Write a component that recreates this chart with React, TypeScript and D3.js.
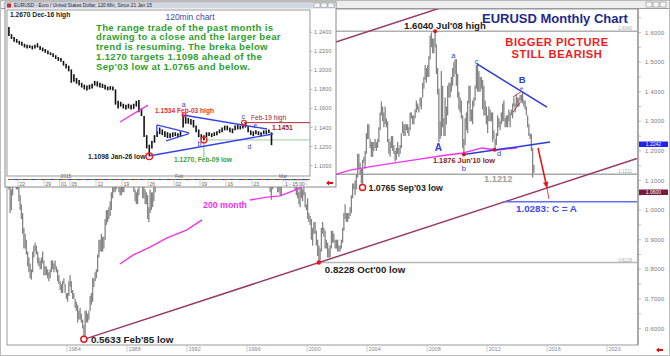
import React from 'react';
import * as d3 from 'd3';

const FONT = "'Liberation Sans', Arial, Helvetica, sans-serif";

// ---------- Monthly EURUSD (synthetic pre-1999), Jan 1980 .. Feb 2015 ----------
const firstYear = 1980;
const monthlyHigh: number[][] = [
  [1.15, 1.13, 1.08, 1.07, 1.11, 1.13, 1.14, 1.11, 1.10, 1.09, 1.05, 1.02], // 1980
  [0.99, 0.94, 0.92, 0.90, 0.86, 0.84, 0.82, 0.80, 0.86, 0.88, 0.89, 0.88],
  [0.86, 0.84, 0.83, 0.84, 0.86, 0.83, 0.81, 0.81, 0.80, 0.79, 0.80, 0.83],
  [0.83, 0.82, 0.83, 0.81, 0.80, 0.78, 0.76, 0.75, 0.76, 0.77, 0.75, 0.72],
  [0.72, 0.76, 0.78, 0.76, 0.73, 0.72, 0.70, 0.69, 0.68, 0.66, 0.67, 0.65],
  [0.63, 0.61, 0.66, 0.66, 0.65, 0.66, 0.71, 0.72, 0.77, 0.77, 0.79, 0.80], // 1985
  [0.85, 0.90, 0.90, 0.92, 0.91, 0.91, 0.97, 1.00, 1.00, 1.01, 1.03, 1.06],
  [1.09, 1.09, 1.09, 1.11, 1.12, 1.09, 1.08, 1.09, 1.10, 1.14, 1.20, 1.25],
  [1.24, 1.20, 1.20, 1.18, 1.17, 1.13, 1.07, 1.06, 1.07, 1.11, 1.15, 1.14],
  [1.11, 1.08, 1.07, 1.06, 1.05, 1.01, 1.07, 1.06, 1.06, 1.08, 1.11, 1.17],
  [1.17, 1.18, 1.17, 1.17, 1.19, 1.18, 1.23, 1.27, 1.26, 1.32, 1.34, 1.33], // 1990
  [1.34, 1.35, 1.27, 1.18, 1.16, 1.13, 1.12, 1.14, 1.18, 1.20, 1.23, 1.29],
  [1.29, 1.23, 1.20, 1.21, 1.24, 1.28, 1.34, 1.40, 1.41, 1.34, 1.27, 1.27],
  [1.24, 1.21, 1.22, 1.25, 1.25, 1.22, 1.16, 1.19, 1.23, 1.21, 1.17, 1.17],
  [1.14, 1.17, 1.19, 1.19, 1.20, 1.25, 1.29, 1.28, 1.29, 1.32, 1.30, 1.27],
  [1.32, 1.35, 1.45, 1.45, 1.42, 1.42, 1.43, 1.40, 1.37, 1.42, 1.40, 1.39], // 1995
  [1.37, 1.37, 1.35, 1.33, 1.30, 1.30, 1.34, 1.35, 1.33, 1.31, 1.32, 1.29],
  [1.27, 1.18, 1.18, 1.16, 1.19, 1.16, 1.13, 1.09, 1.13, 1.15, 1.16, 1.14],
  [1.10, 1.09, 1.09, 1.10, 1.12, 1.12, 1.11, 1.15, 1.21, 1.23, 1.19, 1.19],
  [1.19, 1.14, 1.11, 1.09, 1.08, 1.06, 1.08, 1.08, 1.07, 1.09, 1.06, 1.02],
  [1.04, 0.99, 0.98, 0.97, 0.94, 0.96, 0.96, 0.93, 0.90, 0.88, 0.87, 0.94], // 2000
  [0.96, 0.94, 0.93, 0.90, 0.89, 0.87, 0.88, 0.93, 0.93, 0.92, 0.90, 0.90],
  [0.90, 0.88, 0.88, 0.90, 0.94, 0.99, 1.02, 0.99, 0.99, 0.99, 1.01, 1.05],
  [1.09, 1.09, 1.10, 1.12, 1.19, 1.19, 1.16, 1.14, 1.17, 1.18, 1.20, 1.26],
  [1.29, 1.29, 1.24, 1.23, 1.23, 1.23, 1.24, 1.23, 1.24, 1.28, 1.33, 1.367],
  [1.35, 1.33, 1.35, 1.31, 1.30, 1.24, 1.23, 1.25, 1.25, 1.22, 1.20, 1.21], // 2005
  [1.23, 1.21, 1.22, 1.26, 1.30, 1.29, 1.29, 1.29, 1.29, 1.28, 1.33, 1.33],
  [1.32, 1.32, 1.34, 1.37, 1.36, 1.35, 1.38, 1.38, 1.43, 1.45, 1.49, 1.48],
  [1.49, 1.52, 1.59, 1.60, 1.58, 1.58, 1.604, 1.56, 1.48, 1.41, 1.30, 1.47],
  [1.42, 1.31, 1.38, 1.35, 1.42, 1.43, 1.43, 1.45, 1.48, 1.50, 1.51, 1.51],
  [1.46, 1.40, 1.38, 1.37, 1.32, 1.24, 1.31, 1.33, 1.37, 1.42, 1.42, 1.34], // 2010
  [1.37, 1.38, 1.42, 1.49, 1.494, 1.47, 1.45, 1.45, 1.44, 1.42, 1.37, 1.35],
  [1.32, 1.35, 1.34, 1.33, 1.33, 1.27, 1.24, 1.26, 1.32, 1.31, 1.30, 1.33],
  [1.36, 1.37, 1.31, 1.32, 1.32, 1.34, 1.33, 1.34, 1.36, 1.38, 1.36, 1.39],
  [1.38, 1.38, 1.39, 1.39, 1.3993, 1.37, 1.37, 1.35, 1.32, 1.29, 1.26, 1.257],
  [1.21, 1.1534], // 2015
];
const monthlyLow: number[][] = [
  [1.11, 1.07, 0.99, 1.00, 1.05, 1.09, 1.10, 1.07, 1.07, 1.03, 1.00, 0.97], // 1980
  [0.92, 0.87, 0.87, 0.85, 0.81, 0.79, 0.77, 0.765, 0.79, 0.84, 0.86, 0.85],
  [0.82, 0.81, 0.80, 0.80, 0.82, 0.78, 0.78, 0.78, 0.77, 0.76, 0.77, 0.79],
  [0.80, 0.79, 0.80, 0.79, 0.76, 0.75, 0.73, 0.72, 0.72, 0.75, 0.72, 0.70],
  [0.69, 0.71, 0.74, 0.72, 0.70, 0.70, 0.67, 0.66, 0.62, 0.63, 0.63, 0.62],
  [0.60, 0.5633, 0.57, 0.62, 0.62, 0.63, 0.66, 0.68, 0.69, 0.74, 0.76, 0.77], // 1985
  [0.79, 0.84, 0.86, 0.86, 0.86, 0.87, 0.90, 0.95, 0.96, 0.97, 0.98, 1.00],
  [1.04, 1.06, 1.06, 1.07, 1.08, 1.06, 1.05, 1.05, 1.06, 1.06, 1.12, 1.18],
  [1.17, 1.15, 1.15, 1.15, 1.12, 1.06, 1.03, 1.02, 1.02, 1.05, 1.10, 1.09],
  [1.04, 1.04, 1.02, 1.02, 0.97, 0.96, 0.99, 1.00, 1.01, 1.03, 1.06, 1.10],
  [1.13, 1.14, 1.12, 1.14, 1.15, 1.14, 1.17, 1.21, 1.22, 1.24, 1.29, 1.28], // 1990
  [1.28, 1.27, 1.14, 1.12, 1.11, 1.09, 1.08, 1.09, 1.12, 1.16, 1.18, 1.20],
  [1.20, 1.17, 1.16, 1.18, 1.19, 1.21, 1.27, 1.32, 1.28, 1.25, 1.20, 1.20],
  [1.19, 1.17, 1.17, 1.19, 1.20, 1.15, 1.11, 1.12, 1.17, 1.16, 1.13, 1.12],
  [1.11, 1.12, 1.15, 1.15, 1.17, 1.18, 1.23, 1.24, 1.24, 1.27, 1.24, 1.22],
  [1.25, 1.29, 1.34, 1.38, 1.35, 1.37, 1.38, 1.31, 1.31, 1.36, 1.35, 1.35], // 1995
  [1.32, 1.32, 1.31, 1.27, 1.26, 1.27, 1.28, 1.31, 1.28, 1.27, 1.27, 1.25],
  [1.18, 1.13, 1.13, 1.11, 1.12, 1.11, 1.06, 1.035, 1.07, 1.10, 1.12, 1.09],
  [1.06, 1.06, 1.05, 1.05, 1.08, 1.08, 1.08, 1.08, 1.13, 1.17, 1.15, 1.15],
  [1.13, 1.09, 1.07, 1.05, 1.04, 1.02, 1.01, 1.04, 1.03, 1.05, 1.01, 1.00],
  [0.97, 0.96, 0.95, 0.90, 0.88, 0.92, 0.92, 0.88, 0.845, 0.8228, 0.83, 0.86], // 2000
  [0.92, 0.91, 0.87, 0.87, 0.84, 0.84, 0.84, 0.87, 0.89, 0.89, 0.87, 0.87],
  [0.86, 0.86, 0.86, 0.87, 0.89, 0.93, 0.97, 0.96, 0.96, 0.97, 0.98, 0.99],
  [1.04, 1.07, 1.05, 1.07, 1.11, 1.14, 1.12, 1.09, 1.0765, 1.16, 1.14, 1.19],
  [1.24, 1.24, 1.21, 1.18, 1.18, 1.20, 1.21, 1.20, 1.21, 1.23, 1.27, 1.32],
  [1.30, 1.28, 1.29, 1.28, 1.23, 1.19, 1.18, 1.21, 1.20, 1.19, 1.164, 1.17], // 2005
  [1.19, 1.18, 1.19, 1.21, 1.26, 1.25, 1.25, 1.27, 1.26, 1.25, 1.27, 1.31],
  [1.29, 1.29, 1.31, 1.33, 1.34, 1.33, 1.35, 1.34, 1.38, 1.41, 1.44, 1.43],
  [1.45, 1.45, 1.51, 1.55, 1.53, 1.53, 1.55, 1.46, 1.39, 1.23, 1.24, 1.25],
  [1.28, 1.25, 1.25, 1.29, 1.32, 1.38, 1.38, 1.40, 1.42, 1.45, 1.46, 1.42],
  [1.38, 1.34, 1.33, 1.31, 1.21, 1.1876, 1.22, 1.27, 1.26, 1.36, 1.30, 1.30], // 2010
  [1.29, 1.35, 1.37, 1.41, 1.40, 1.40, 1.40, 1.41, 1.34, 1.32, 1.32, 1.29],
  [1.26, 1.30, 1.30, 1.30, 1.23, 1.24, 1.2043, 1.22, 1.25, 1.28, 1.27, 1.29],
  [1.30, 1.30, 1.28, 1.28, 1.28, 1.30, 1.28, 1.32, 1.31, 1.35, 1.33, 1.35],
  [1.35, 1.35, 1.37, 1.37, 1.36, 1.35, 1.34, 1.32, 1.28, 1.25, 1.24, 1.20],
  [1.1098, 1.1262], // 2015
];

// 200-month moving average (null = gap where the label sits)
const maTimes = [1987.53, 1988.4, 1989.53, 1990.67, 1992.0, 1993.0, 1994.5, 1995.5, 1996.2, 1997.33, 1998.2, 1999.07, 1999.33, 2001.53, 2002.87, 2004.87, 2007.07, 2009.33, 2010.4, 2011.67, 2012.67, 2014.0];
const maValues: (number | null)[] = [0.818, 0.848, 0.875, 0.906, 0.933, 0.967, null, null, 1.034, 1.044, 1.048, 1.065, 1.071, 1.115, 1.135, 1.152, 1.169, 1.186, 1.193, 1.21, 1.203, 1.21];

const yearTicks = [1984, 1988, 1992, 1996, 2000, 2004, 2008, 2012, 2016, 2020];
const priceTicks = [0.6, 0.7, 0.8, 0.9, 1.0, 1.1, 1.2, 1.3, 1.4, 1.5, 1.6];

// key levels
const jul08High = { t: 2008.54, v: 1.604 };
const oct00Low = { t: 2000.79, v: 0.8228 };
const feb85Low = { t: 1985.125, v: 0.5633 };
const sep03Low = { t: 2003.7, v: 1.0765 };
const jun10Low = { t: 2010.46, v: 1.1876 };
const jul12Low = { t: 2012.5, v: 1.2043 };
const level1212 = 1.1212;
const targetCA = 1.0283;
const channelOffset = 0.726;

// ---------- 120min inset: half-day bars from 18 Dec 2014 ----------
const insetHigh = [
  1.2455, 1.2380, 1.2350, 1.2330, 1.2310, 1.2300, 1.2280, 1.2270, 1.2265, 1.2260,
  1.2270, 1.2285, 1.2255, 1.2240, 1.2225, 1.2210, 1.2190, 1.2180, 1.2160, 1.2140,
  1.2130, 1.2100, 1.2070, 1.2050, 1.2010, 1.1960, 1.1920, 1.1900, 1.1870, 1.1850,
  1.1840, 1.1850, 1.1860, 1.1890, 1.1885, 1.1870, 1.1860, 1.1850, 1.1830, 1.1835,
  1.1830, 1.1800, 1.1680, 1.1670, 1.1650, 1.1640, 1.1650, 1.1640, 1.1650, 1.1680,
  1.1690, 1.1600, 1.1520, 1.1320, 1.1220, 1.1260, 1.1320, 1.1360, 1.1400, 1.1380,
  1.1360, 1.1350, 1.1340, 1.1350, 1.1350, 1.1340, 1.1360, 1.1534, 1.1510, 1.1500,
  1.1490, 1.1480, 1.1420, 1.1380, 1.1330, 1.1320, 1.1350, 1.1350, 1.1340, 1.1350,
  1.1360, 1.1380, 1.1400, 1.1420, 1.1420, 1.1400, 1.1390, 1.1420, 1.1430, 1.1420,
  1.1440, 1.1451, 1.1410, 1.1370, 1.1360, 1.1370, 1.1360, 1.1350, 1.1370, 1.1370,
  1.1380, 1.1350,
];
const insetLow = [
  1.2360, 1.2330, 1.2300, 1.2290, 1.2270, 1.2260, 1.2240, 1.2230, 1.2235, 1.2220,
  1.2230, 1.2240, 1.2215, 1.2200, 1.2185, 1.2170, 1.2160, 1.2140, 1.2120, 1.2100,
  1.2090, 1.2050, 1.2020, 1.1990, 1.1870, 1.1880, 1.1860, 1.1840, 1.1820, 1.1800,
  1.1790, 1.1800, 1.1810, 1.1840, 1.1830, 1.1820, 1.1815, 1.1800, 1.1790, 1.1795,
  1.1790, 1.1640, 1.1600, 1.1620, 1.1600, 1.1590, 1.1600, 1.1590, 1.1595, 1.1620,
  1.1560, 1.1520, 1.1300, 1.1180, 1.1098, 1.1180, 1.1240, 1.1300, 1.1330, 1.1320,
  1.1300, 1.1290, 1.1290, 1.1300, 1.1310, 1.1300, 1.1310, 1.1400, 1.1440, 1.1440,
  1.1430, 1.1400, 1.1350, 1.1300, 1.1280, 1.1270, 1.1300, 1.1310, 1.1300, 1.1310,
  1.1320, 1.1340, 1.1350, 1.1370, 1.1370, 1.1350, 1.1340, 1.1370, 1.1380, 1.1380,
  1.1390, 1.1400, 1.1350, 1.1320, 1.1310, 1.1330, 1.1320, 1.1310, 1.1330, 1.1330,
  1.1340, 1.1215,
];
const insetPriceTicks = [1.10, 1.12, 1.14, 1.16, 1.18, 1.20, 1.22, 1.24];
const insetDayLabels = ['22', '29', '01', '05', '12', '19', '26', '02', '09', '16', '23'];
const insetDayBars = [4, 14, 20, 24, 34, 44, 54, 64, 74, 84, 94];
const insetMonthLabels = ['2015', 'Feb', 'Mar'];
const insetMonthBars = [20, 64, 104];
const greenText = [
  'The range trade of the past month is',
  'drawing to a close and the larger bear',
  'trend is resuming. The breka below',
  '1.1270 targets 1.1098 ahead of the',
  "Sep'03 low at 1.0765 and below.",
];

function arrowHead(p1: [number, number], p0: [number, number], len: number, half: number) {
  const a = Math.atan2(p1[1] - p0[1], p1[0] - p0[0]);
  const bx = p1[0] - Math.cos(a) * len, by = p1[1] - Math.sin(a) * len;
  const px = -Math.sin(a) * half, py = Math.cos(a) * half;
  return `${p1[0]},${p1[1]} ${bx + px},${by + py} ${bx - px},${by - py}`;
}

function LeftArrow({ cx, cy }: { cx: number; cy: number }) {
  return (
    <polygon
      points={`${cx - 4},${cy} ${cx - 1},${cy - 2.5} ${cx - 1},${cy - 1} ${cx + 3},${cy - 1} ${cx + 3},${cy + 1} ${cx - 1},${cy + 1} ${cx - 1},${cy + 2.5}`}
      fill="#e01010"
    />
  );
}

export default function App() {
  const x = d3.scaleLinear().domain([1980, 2022]).range([7, 637]);
  const y = d3.scaleLinear().domain([0.6, 1.6]).range([328.5, 32.5]);

  const months = monthlyHigh.flatMap((row, yi) =>
    row.map((h, mi) => ({ t: firstYear + yi + (mi + 0.5) / 12, hi: h, lo: monthlyLow[yi][mi] }))
  );

  const maLine = d3
    .line<number>()
    .defined((_, i) => maValues[i] !== null)
    .x((_, i) => x(maTimes[i]))
    .y((_, i) => y(maValues[i] as number));

  // channel
  const slope = (oct00Low.v - feb85Low.v) / (oct00Low.t - feb85Low.t);
  const chan = (t: number) => feb85Low.v + slope * (t - feb85Low.t);

  // blue trendlines
  const cHigh = { t: 2011.33, v: 1.494 };
  const upperEnd = { t: 2016.0, v: 1.348 };
  const lowerEnd = { t: 2016.2, v: 1.23 };

  const arrowP0: [number, number] = [x(2015.4), y(1.21)];
  const arrowP1: [number, number] = [x(2016.0), y(1.075)];
  const arrowP2: [number, number] = [x(2016.13), y(1.0375)];

  // inset scales
  const xi = d3.scaleLinear().domain([0, 116]).range([7.6, 7.6 + 116 * 2.6]);
  const yi = d3.scaleLinear().domain([1.1, 1.24]).range([165.6, 32.3]);
  const fmt4 = d3.format('.4f');

  const blue = '#2b3bd6';
  const maroon = '#9a3a66';

  return (
    <svg
      width={670}
      height={356}
      viewBox="0 0 670 356"
      style={{ position: 'absolute', left: 0, top: 0, background: '#fff' }}
      fontFamily={FONT}
    >
      <defs>
        <clipPath id="plotClip">
          <rect x={7} y={9} width={631} height={336} />
        </clipPath>
        <clipPath id="insetClip">
          <rect x={7} y={10} width={303} height={166} />
        </clipPath>
      </defs>

      {/* ---------- main window ---------- */}
      <rect x={0.5} y={0.5} width={669} height={355} fill="#fff" stroke="#bbb" />
      <rect x={1} y={1} width={668} height={7} fill="#eeeeee" />
      <line x1={1} x2={669} y1={8.5} y2={8.5} stroke="#999" />
      {[646, 653, 660].map((bx, i) => (
        <rect key={i} x={bx} y={2} width={6} height={5} fill="#f8f8f8" stroke="#888" strokeWidth={0.6} />
      ))}
      <rect x={7} y={9} width={631} height={336} fill="#fff" stroke="#999" />

      <g clipPath="url(#plotClip)">
        {/* horizontal key levels */}
        <line x1={7} x2={637} y1={y(jul08High.v)} y2={y(jul08High.v)} stroke="#b0b0b0" strokeWidth={1.6} />
        <line x1={7} x2={637} y1={y(level1212)} y2={y(level1212)} stroke="#a8a8a8" strokeWidth={1.6} />
        <line x1={x(oct00Low.t)} x2={637} y1={y(oct00Low.v)} y2={y(oct00Low.v)} stroke="#b8b8b8" strokeWidth={1.6} />

        {/* monthly bars */}
        {months.map((m, i) => (
          <line key={i} x1={x(m.t)} x2={x(m.t)} y1={y(m.lo)} y2={y(m.hi)} stroke="#858585" strokeWidth={1.3} />
        ))}

        {/* 200 month MA */}
        <path d={maLine(maTimes) || ''} fill="none" stroke="#ee33ee" strokeWidth={1.4} />

        {/* channel */}
        <line x1={x(feb85Low.t)} y1={y(feb85Low.v)} x2={x(2022)} y2={y(chan(2022))} stroke={maroon} strokeWidth={1.5} />
        <line x1={x(1998)} y1={y(chan(1998) + channelOffset)} x2={x(2009.5)} y2={y(chan(2009.5) + channelOffset)} stroke={maroon} strokeWidth={1.5} />

        {/* blue trendlines */}
        <line x1={x(cHigh.t)} y1={y(cHigh.v)} x2={x(upperEnd.t)} y2={y(upperEnd.v)} stroke={blue} strokeWidth={1.5} />
        <line x1={x(jun10Low.t)} y1={y(jun10Low.v)} x2={x(lowerEnd.t)} y2={y(lowerEnd.v)} stroke={blue} strokeWidth={1.5} />
        <line x1={x(2013.07)} x2={637} y1={y(targetCA)} y2={y(targetCA)} stroke="#6070f0" strokeWidth={1.5} />

        {/* small wedge near B */}
        <line x1={x(2013.73)} y1={y(1.382)} x2={x(2014.33)} y2={y(1.402)} stroke="#b03040" strokeWidth={0.9} />
        <line x1={x(2013.73)} y1={y(1.331)} x2={x(2014.4)} y2={y(1.375)} stroke="#b03040" strokeWidth={0.9} />

        {/* red arrow */}
        <line x1={arrowP0[0]} y1={arrowP0[1]} x2={arrowP1[0]} y2={arrowP1[1]} stroke="#e01818" strokeWidth={1.6} />
        <polygon points={arrowHead(arrowP1, arrowP0, 6, 2.8)} fill="#e01818" />
        <line x1={arrowP1[0]} y1={arrowP1[1]} x2={arrowP2[0]} y2={arrowP2[1]} stroke="#e01818" strokeWidth={0.8} />
      </g>

      {/* markers */}
      <circle cx={x(jul08High.t)} cy={y(jul08High.v)} r={2} fill="#e01818" />
      <circle cx={x(oct00Low.t)} cy={y(oct00Low.v)} r={2.2} fill="#e01818" />
      <circle cx={x(jun10Low.t)} cy={y(jun10Low.v)} r={2} fill="#e01818" />
      <circle cx={x(jul12Low.t)} cy={y(jul12Low.v)} r={2} fill="#e01818" />
      <circle cx={x(feb85Low.t)} cy={y(feb85Low.v)} r={3} fill="#fff" stroke="#e01818" strokeWidth={1.5} />
      <circle cx={x(sep03Low.t)} cy={y(sep03Low.v)} r={3} fill="#fff" stroke="#e01818" strokeWidth={1.5} />

      {/* main texts */}
      <text x={482} y={23} fontSize={13} fontWeight="bold" fill="#1f2a8a">EURUSD Monthly Chart</text>
      <text x={557} y={45.5} fontSize={11.2} fontWeight="bold" fill="#ee1c1c" textAnchor="middle" letterSpacing={0.5}>BIGGER PICTURE</text>
      <text x={557} y={57.5} fontSize={11.2} fontWeight="bold" fill="#ee1c1c" textAnchor="middle" letterSpacing={0.5}>STILL BEARISH</text>
      <text x={x(jul08High.t) - 31} y={y(jul08High.v) - 2} fontSize={9.6} fontWeight="bold" fill="#222">1.6040 Jul'08 high</text>
      <text x={x(jun10Low.t) - 31} y={y(jun10Low.v) + 8} fontSize={7.4} fontWeight="bold" fill="#8b1c1c">1.1876 Jun'10 low</text>
      <text x={x(sep03Low.t) + 6} y={y(sep03Low.v) + 4} fontSize={8.8} fontWeight="bold" fill="#222">1.0765 Sep'03 low</text>
      <text x={x(oct00Low.t) + 6} y={y(oct00Low.v) + 10} fontSize={9.7} fontWeight="bold" fill="#222">0.8228 Oct'00 low</text>
      <text x={x(feb85Low.t) + 7} y={y(feb85Low.v) + 4} fontSize={9.8} fontWeight="bold" fill="#222">0.5633 Feb'85 low</text>
      <text x={516} y={y(targetCA) + 10} fontSize={9.8} fontWeight="bold" fill="#3a48f0">1.0283: C = A</text>
      <text x={484} y={y(level1212) + 7.5} fontSize={9.3} fontWeight="bold" fill="#a0a0a0">1.1212</text>
      <text x={203} y={208} fontSize={8.8} fontWeight="bold" fill="#ee33ee">200 month</text>
      <text x={x(2009.75)} y={58} fontSize={7.5} fill={blue} textAnchor="middle">a</text>
      <text x={x(2011.3)} y={64} fontSize={7.5} fill={blue} textAnchor="middle">c</text>
      <text x={x(2014.35)} y={83} fontSize={9.5} fontWeight="bold" fill={blue} textAnchor="middle">B</text>
      <text x={x(2014.3)} y={90} fontSize={5.5} fill={blue} textAnchor="middle">e</text>
      <text x={x(2008.75)} y={151} fontSize={10} fontWeight="bold" fill={blue} textAnchor="middle">A</text>
      <text x={x(jun10Low.t)} y={171} fontSize={7.5} fill={blue} textAnchor="middle">b</text>
      <text x={x(2012.8)} y={156} fontSize={7.5} fill={blue} textAnchor="middle">d</text>
      <text x={632} y={y(jul08High.v) - 1} fontSize={4.5} fill="#aaa" textAnchor="end">1.6040</text>
      <text x={632} y={y(level1212) - 1} fontSize={4.5} fill="#aaa" textAnchor="end">1.1212</text>
      <text x={632} y={y(oct00Low.v) - 1} fontSize={4.5} fill="#aaa" textAnchor="end">0.8228</text>

      {/* right axis */}
      <line x1={638} x2={638} y1={9} y2={345} stroke="#888" />
      {d3.range(0.6, 1.651, 0.05).map((v, i) => (
        <line key={i} x1={638} x2={641} y1={y(v)} y2={y(v)} stroke="#999" strokeWidth={0.6} />
      ))}
      {priceTicks.map((v) => (
        <text key={v} x={645} y={y(v) + 2} fontSize={5.8} fill="#777" letterSpacing={0.3}>{fmt4(v)}</text>
      ))}
      <rect x={639} y={141.5} width={29} height={5.5} fill="#2222ee" />
      <text x={653.5} y={146.2} fontSize={5} fill="#fff" textAnchor="middle">1.2242</text>
      <rect x={639} y={189.5} width={29} height={5.5} fill="#7a1838" />
      <text x={653.5} y={194.2} fontSize={5} fill="#fff" textAnchor="middle">1.0600</text>

      {/* bottom axis */}
      {yearTicks.map((t) => (
        <g key={t}>
          <line x1={x(t)} x2={x(t)} y1={345} y2={352} stroke="#aaa" strokeWidth={0.6} />
          <text x={x(t) + 1.5} y={351} fontSize={5.5} fill="#888">{t}</text>
        </g>
      ))}
      <LeftArrow cx={660} cy={350} />

      {/* ---------- inset window ---------- */}
      <rect x={5} y={2} width={331} height={185} fill="#fff" stroke="#888" />
      <rect x={5.5} y={2.5} width={330} height={6} fill="#d3d7e2" />
      <rect x={7} y={3.5} width={4} height={4} fill="#c03030" />
      <text x={14} y={7.4} fontSize={4.8} fill="#223">EURUSD - Euro / United States Dollar, 120 Min, Since 21 Jan 15</text>
      {[314, 321, 328].map((bx, i) => (
        <rect key={i} x={bx} y={3} width={6} height={4.6} fill="#f4f4f4" stroke="#888" strokeWidth={0.5} />
      ))}
      <rect x={7} y={10} width={303} height={166} fill="#fff" stroke="#999" />

      <g clipPath="url(#insetClip)">
        {/* reference lines */}
        <line x1={xi(91)} x2={310} y1={yi(1.1451)} y2={yi(1.1451)} stroke="#b02030" strokeWidth={1} />
        <line x1={xi(75.5)} x2={310} y1={yi(1.127)} y2={yi(1.127)} stroke="#9ccf9c" strokeWidth={1} />
        <line x1={xi(75.5)} x2={xi(75.5)} y1={yi(1.127)} y2={yi(1.1085)} stroke="#7cc07c" strokeWidth={1} />

        {/* bars */}
        {insetHigh.map((h, i) => (
          <line key={i} x1={xi(i + 0.5)} x2={xi(i + 0.5)} y1={yi(insetLow[i])} y2={yi(h)} stroke="#111" strokeWidth={1.6} />
        ))}

        {/* pattern lines */}
        <line x1={xi(43.2)} y1={yi(1.1458)} x2={xi(54)} y2={yi(1.1636)} stroke="#ee33ee" strokeWidth={1.4} />
        <line x1={xi(67.5)} y1={yi(1.1531)} x2={xi(99.8)} y2={yi(1.1384)} stroke="#3344ee" strokeWidth={1.4} />
        <line x1={xi(54.8)} y1={yi(1.1103)} x2={xi(102.1)} y2={yi(1.1332)} stroke="#3344ee" strokeWidth={1.4} />
        <line x1={xi(57.4)} y1={yi(1.1427)} x2={xi(69.8)} y2={yi(1.1343)} stroke="#3344ee" strokeWidth={1.3} />
        <line x1={xi(60.9)} y1={yi(1.1259)} x2={xi(69.8)} y2={yi(1.1337)} stroke="#3344ee" strokeWidth={1.3} />
        <line x1={xi(57.4)} y1={yi(1.1427)} x2={xi(57.4)} y2={yi(1.1345)} stroke="#3344ee" strokeWidth={1.3} />

        {/* circles */}
        <circle cx={xi(54.5)} cy={yi(1.1098)} r={3.3} fill="none" stroke="#ee2020" strokeWidth={1.4} />
        <circle cx={xi(67.9)} cy={yi(1.1534)} r={2} fill="none" stroke="#ee2020" strokeWidth={1.2} />
        <circle cx={xi(75.5)} cy={yi(1.127)} r={3} fill="none" stroke="#ee2020" strokeWidth={1.4} />
        <circle cx={xi(90.9)} cy={yi(1.1451)} r={2.4} fill="none" stroke="#ee2020" strokeWidth={1.2} />
      </g>

      {/* inset texts */}
      <text x={10} y={17} fontSize={6.7} fontWeight="bold" fill="#222">1.2670 Dec-16 high</text>
      <text x={190} y={20} fontSize={8.5} fill="#4848b0" textAnchor="middle">120min chart</text>
      {greenText.map((s, i) => (
        <text key={i} x={96} y={30.5 + i * 9.85} fontSize={9.6} fontWeight="bold" fill="#2ea02e" letterSpacing={0.32}>{s}</text>
      ))}
      <text x={155} y={113} fontSize={6.6} fontWeight="bold" fill="#f03030">1.1534 Feb-03 high</text>
      <text x={251} y={120} fontSize={6.6} fill="#a01c28">Feb-19 high</text>
      <text x={272} y={129.5} fontSize={6.8} fontWeight="bold" fill="#a01c28">1.1451</text>
      <text x={174} y={162} fontSize={6.6} fontWeight="bold" fill="#3aa03a">1.1270, Feb-09 low</text>
      <text x={88} y={159} fontSize={6.8} fontWeight="bold" fill="#222">1.1098 Jan-26 low</text>
      <text x={xi(67.7)} y={107} fontSize={7} fill="#3344cc" textAnchor="middle">a</text>
      <text x={xi(90.6)} y={118.5} fontSize={7} fill="#3344cc" textAnchor="middle">c</text>
      <text x={xi(95.3)} y={127.8} fontSize={6.5} fill="#3344cc" textAnchor="middle">e</text>
      <text x={xi(73.8)} y={145.5} fontSize={7} fill="#3344cc" textAnchor="middle">b</text>
      <text x={xi(93)} y={148.5} fontSize={7} fill="#3344cc" textAnchor="middle">d</text>

      {/* inset right axis */}
      {insetPriceTicks.map((v) => (
        <g key={v}>
          <line x1={310} x2={312.5} y1={yi(v)} y2={yi(v)} stroke="#999" strokeWidth={0.6} />
          <text x={314} y={yi(v) + 2} fontSize={5.4} fill="#777" letterSpacing={0.2}>{fmt4(v)}</text>
        </g>
      ))}

      {/* inset date axis */}
      {['#e03030', '#30a030', '#3040e0'].map((c, i) => (
        <line key={c} x1={8} x2={310} y1={179.5} y2={179.5} stroke={c} strokeWidth={1} strokeDasharray="3 6" strokeDashoffset={-i * 3} />
      ))}
      {insetDayBars.map((b, i) => (
        <g key={i}>
          <line x1={xi(b)} x2={xi(b)} y1={180} y2={186} stroke="#999" strokeWidth={0.5} />
          <text x={xi(b) + 1.5} y={185.5} fontSize={5} fill="#666">{insetDayLabels[i]}</text>
        </g>
      ))}
      {insetMonthBars.map((b, i) => (
        <text key={i} x={xi(b) + 1} y={178} fontSize={4.8} fill="#666">{insetMonthLabels[i]}</text>
      ))}
      <rect x={283} y={180.5} width={24} height={6} fill="#fff" stroke="#bbb" strokeWidth={0.5} />
      <text x={285} y={185.5} fontSize={5} fill="#555">1 - 15:00</text>
      <LeftArrow cx={330} cy={183} />
    </svg>
  );
}
